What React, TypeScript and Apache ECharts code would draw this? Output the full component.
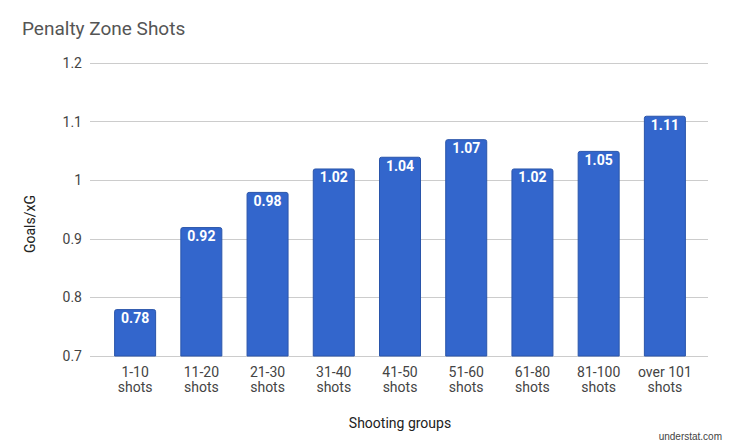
import React, { useEffect, useRef } from "react";
import * as echarts from "echarts";

const categories = ["1-10\nshots", "11-20\nshots", "21-30\nshots", "31-40\nshots", "41-50\nshots", "51-60\nshots", "61-80\nshots", "81-100\nshots", "over 101\nshots"];
const values = [0.78, 0.92, 0.98, 1.02, 1.04, 1.07, 1.02, 1.05, 1.11];
const yMin = 0.7;
const yMax = 1.2;
const yStep = 0.1;

export default function App() {
  const ref = useRef<HTMLDivElement>(null);
  useEffect(() => {
    if (!ref.current) return;
    const chart = echarts.init(ref.current, null, { renderer: "svg" });
    const font = "Roboto";
    chart.setOption({
      animation: false,
      backgroundColor: "#ffffff",
      textStyle: { fontFamily: font },
      title: {
        text: "Penalty Zone Shots",
        left: 17,
        top: 14,
        textStyle: { fontFamily: font, fontSize: 19, fontWeight: "normal", color: "#555555" },
      },
      graphic: [
        {
          type: "text",
          right: 8,
          top: 431,
          style: { text: "understat.com", fontFamily: "Arial", fontSize: 10, fill: "#444444" },
        },
        {
          type: "text",
          x: 30,
          y: 224,
          rotation: Math.PI / 2,
          style: {
            text: "Goals/xG",
            fontFamily: font,
            fontSize: 14,
            fill: "#222222",
            align: "center",
            verticalAlign: "middle",
          },
        },
      ],
      grid: [
        { left: 90, right: 22, top: 63, bottom: 92 },
        { left: 102, right: 32, top: 63, bottom: 92 },
      ],
      xAxis: [
        { type: "value", gridIndex: 0, show: false, min: 0, max: 1 },
        {
          type: "category",
          gridIndex: 1,
          data: categories,
          axisLine: { show: false },
          axisTick: { show: false },
          axisLabel: { color: "#444444", fontSize: 14, lineHeight: 15, margin: 8, interval: 0, fontFamily: font },
          name: "Shooting groups",
          nameLocation: "middle",
          nameGap: 60,
          nameTextStyle: { color: "#222222", fontSize: 14, fontFamily: font },
        },
      ],
      yAxis: [
        {
          type: "value",
          gridIndex: 0,
          min: yMin,
          max: yMax,
          interval: yStep,
          axisLine: { show: false },
          axisTick: { show: false },
          axisLabel: { color: "#444444", fontSize: 14, margin: 8, fontFamily: font },
          splitLine: { lineStyle: { color: "#cccccc", width: 1 } },
        },
        {
          type: "value",
          gridIndex: 1,
          min: yMin,
          max: yMax,
          interval: yStep,
          show: false,
          splitLine: { show: false },
        },
      ],
      series: [
        {
          type: "bar",
          xAxisIndex: 1,
          yAxisIndex: 1,
          data: values,
          barWidth: 42,
          itemStyle: { color: "#3366cc", borderColor: "#2a55aa", borderWidth: 1, borderRadius: [2, 2, 0, 0] },
          label: {
            show: true,
            position: "insideTop",
            distance: 2,
            color: "#ffffff",
            fontWeight: "bold",
            fontSize: 14,
            fontFamily: font,
          },
        },
      ],
    });
    return () => chart.dispose();
  }, []);
  return <div ref={ref} style={{ position: "fixed", left: 0, top: 0, width: 730, height: 448 }} />;
}
